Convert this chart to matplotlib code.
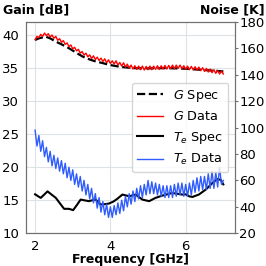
import numpy as np
import matplotlib
matplotlib.use("Agg")
import matplotlib.pyplot as plt

# gain spec (dB)
g_spec_f = [2.0, 2.1, 2.28, 2.4, 2.55, 2.7, 2.9, 3.1, 3.26, 3.45, 3.61, 3.8, 3.96,
            4.15, 4.32, 4.6, 5.0, 5.5, 6.0, 6.5, 7.0]
g_spec = [39.25, 39.5, 39.75, 39.5, 39.0, 38.6, 38.0, 37.3, 36.75, 36.3, 36.0, 35.75, 35.5,
          35.3, 35.15, 35.0, 34.95, 35.0, 34.9, 34.7, 34.5]

# measured data grid 2..7 GHz
freq = np.linspace(2, 7, 101)
g_data = [39.3, 39.8, 39.6, 40.1, 39.8, 40.3, 39.9, 40.2, 39.7, 40.0,
          39.5, 39.8, 39.2, 39.45, 38.9, 39.15, 38.6, 38.8, 38.25, 38.5,
          37.9, 38.15, 37.6, 37.85, 37.25, 37.5, 36.95, 37.25, 36.7, 37.0,
          36.45, 36.85, 36.3, 36.65, 36.15, 36.5, 36.0, 36.4, 35.8, 36.25,
          35.7, 36.1, 35.6, 36.1, 35.45, 35.85, 35.3, 35.8, 35.15, 35.6,
          35.0, 35.45, 34.85, 35.35, 34.8, 35.3, 34.75, 35.3, 34.7, 35.25,
          34.75, 35.3, 34.75, 35.3, 34.8, 35.35, 34.8, 35.35, 34.85, 35.4,
          34.85, 35.4, 34.9, 35.45, 34.9, 35.45, 34.95, 35.45, 34.9, 35.35,
          34.8, 35.3, 34.75, 35.25, 34.75, 35.2, 34.7, 35.15, 34.6, 35.05,
          34.5, 34.95, 34.4, 34.85, 34.3, 34.75, 34.2, 34.65, 34.1, 34.55,
          34.1]

# noise temperature (K)
te_data = [98, 86, 94, 82, 90, 78, 85, 74, 82, 71,
           79, 69, 77, 67, 75, 65, 73, 62, 70, 60,
           68, 57, 65, 55, 63, 52, 60, 49, 57, 46,
           54, 43, 50, 39, 47, 36, 44, 34, 42, 32,
           40, 32, 41, 34, 43, 35, 45, 37, 48, 40,
           50, 42, 52, 44, 54, 46, 56, 47, 57, 49,
           60, 50, 59, 50, 58, 49, 57, 48, 56, 47,
           56, 47, 56, 47, 57, 48, 58, 49, 58, 48,
           57, 48, 58, 49, 60, 51, 62, 52, 63, 53,
           63, 53, 65, 54, 67, 54, 66, 55, 70, 57,
           60]

te_spec_f = [2.0, 2.08, 2.15, 2.25, 2.33, 2.45, 2.55, 2.65, 2.77, 2.9, 3.01, 3.1, 3.21,
             3.3, 3.43, 3.52, 3.61, 3.74, 3.85, 3.96, 4.08, 4.18, 4.32, 4.5, 4.67, 4.85,
             5.03, 5.2, 5.38, 5.64, 5.91, 6.0, 6.09, 6.18, 6.35, 6.53, 6.71, 6.84, 6.93, 7.0]
te_spec = [49.5, 48, 46.8, 49.5, 51.7, 49, 46.8, 43, 38.5, 38.5, 37.5, 41, 45.5,
           45, 44.3, 45, 45.5, 41.8, 42, 42.5, 44, 46, 49.3, 48, 49.3, 45.5,
           44.3, 46.8, 48.5, 50.5, 49.3, 49.5, 48, 47.5, 49.3, 53, 58, 61, 60.5, 57]

fig = plt.figure(figsize=(2.66, 2.66), dpi=100)
ax = fig.add_axes([0.098, 0.123, 0.784, 0.795])
ax2 = ax.twinx()

l1, = ax.plot(g_spec_f, g_spec, "k--", lw=1.6, label="$G$ Spec")
l2, = ax.plot(freq, g_data, color="red", lw=1.0, label="$G$ Data")
l3, = ax2.plot(te_spec_f, te_spec, color="black", lw=1.5, label="$T_e$ Spec")
l4, = ax2.plot(freq, te_data, color="#2f5cff", lw=1.0, label="$T_e$ Data")

ax.set_xlim(1.76, 7.3)
ax.set_ylim(10, 42)
ax2.set_ylim(20, 180)
ax.set_xticks([2, 4, 6])
ax.set_yticks([10, 15, 20, 25, 30, 35, 40])
ax2.set_yticks([20, 40, 60, 80, 100, 120, 140, 160, 180])

ax.grid(True, color="#dde2e6", lw=0.8)
ax.set_axisbelow(True)
for a in (ax, ax2):
    for s in a.spines.values():
        s.set_color("#707070")
        s.set_linewidth(0.8)
ax.tick_params(axis="both", length=0, pad=5, labelsize=9.5)
ax2.tick_params(axis="y", length=2.5, width=0.8, color="#707070", pad=1, labelsize=9.5)

fig.text(0.01, 0.962, "Gain [dB]", fontsize=9, fontweight="bold", ha="left", va="center")
fig.text(0.993, 0.962, "Noise [K]", fontsize=9, fontweight="bold", ha="right", va="center")
ax.set_xlabel("Frequency [GHz]", fontsize=9, fontweight="bold", labelpad=0)

ax2.legend(handles=[l1, l2, l3, l4], loc="center right", fontsize=9.2,
           handlelength=2.0, borderaxespad=0.5)

fig.savefig("out.png", dpi=100)
